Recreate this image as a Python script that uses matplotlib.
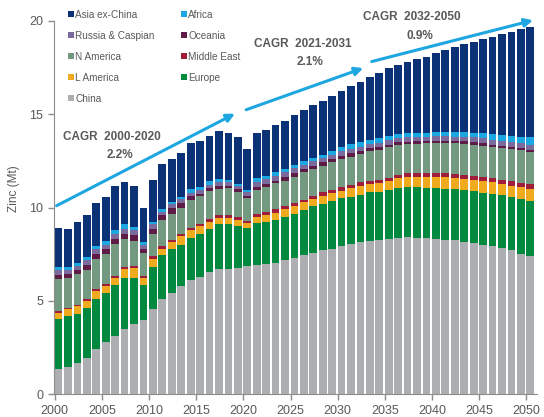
"""
Zinc demand by region, 2000-2050, stacked bars with CAGR arrows
"""

import numpy as np
import matplotlib
matplotlib.use('Agg')
from matplotlib import pyplot as plt
from matplotlib.patches import Patch

plt.rcParams['font.family'] = ['Liberation Sans', 'DejaVu Sans']

years = np.arange(2000, 2051)

# Regional zinc demand (Mt)
china = [1.33, 1.48, 1.69, 1.92, 2.40, 2.78, 3.11, 3.48, 3.75, 4.00,
         4.59, 5.09, 5.45, 5.79, 6.10, 6.28, 6.55, 6.69, 6.69, 6.78,
         6.85, 6.91, 6.96, 7.05, 7.17, 7.30, 7.44, 7.58, 7.71, 7.80,
         7.94, 8.03, 8.15, 8.21, 8.24, 8.33, 8.38, 8.42, 8.38, 8.36,
         8.33, 8.27, 8.24, 8.15, 8.10, 8.01, 7.92, 7.83, 7.71, 7.53, 7.41]
europe = [2.73, 2.72, 2.60, 2.72, 2.69, 2.65, 2.74, 2.73, 2.50, 1.87,
          2.23, 2.35, 2.35, 2.22, 2.27, 2.32, 2.32, 2.44, 2.44, 2.26,
          2.06, 2.26, 2.26, 2.26, 2.32, 2.37, 2.44, 2.48, 2.49, 2.54,
          2.56, 2.56, 2.53, 2.61, 2.58, 2.62, 2.68, 2.67, 2.71, 2.70,
          2.71, 2.73, 2.73, 2.80, 2.78, 2.78, 2.82, 2.82, 2.85, 2.94, 2.93]
l_america = [0.32, 0.38, 0.42, 0.36, 0.43, 0.38, 0.39, 0.48, 0.49, 0.36,
             0.41, 0.36, 0.35, 0.45, 0.41, 0.39, 0.35, 0.32, 0.32, 0.32,
             0.26, 0.35, 0.39, 0.41, 0.41, 0.44, 0.41, 0.41, 0.44, 0.44,
             0.41, 0.46, 0.46, 0.45, 0.48, 0.50, 0.53, 0.54, 0.57, 0.60,
             0.59, 0.63, 0.62, 0.59, 0.60, 0.62, 0.62, 0.62, 0.62, 0.62, 0.66]
middle_east = [0.07, 0.06, 0.09, 0.11, 0.10, 0.12, 0.12, 0.13, 0.11, 0.09,
               0.16, 0.16, 0.09, 0.14, 0.14, 0.14, 0.16, 0.15, 0.16, 0.13,
               0.10, 0.15, 0.15, 0.22, 0.18, 0.15, 0.14, 0.14, 0.18, 0.18,
               0.18, 0.18, 0.22, 0.18, 0.18, 0.14, 0.18, 0.21, 0.20, 0.20,
               0.23, 0.21, 0.21, 0.23, 0.23, 0.21, 0.21, 0.21, 0.23, 0.23, 0.27]
n_america = [1.71, 1.59, 1.63, 1.56, 1.61, 1.57, 1.71, 1.49, 1.36, 1.25,
             1.21, 1.35, 1.43, 1.39, 1.49, 1.47, 1.50, 1.42, 1.44, 1.34,
             1.25, 1.28, 1.36, 1.36, 1.37, 1.40, 1.46, 1.46, 1.43, 1.47,
             1.52, 1.50, 1.51, 1.57, 1.62, 1.64, 1.60, 1.57, 1.55, 1.58,
             1.58, 1.60, 1.64, 1.64, 1.66, 1.69, 1.69, 1.71, 1.73, 1.76, 1.72]
oceania = [0.21, 0.23, 0.24, 0.27, 0.30, 0.28, 0.26, 0.29, 0.30, 0.23,
           0.27, 0.27, 0.32, 0.25, 0.21, 0.15, 0.15, 0.16, 0.13, 0.17,
           0.12, 0.17, 0.15, 0.15, 0.21, 0.18, 0.18, 0.16, 0.18, 0.18,
           0.17, 0.20, 0.18, 0.16, 0.13, 0.14, 0.12, 0.12, 0.14, 0.12,
           0.14, 0.14, 0.14, 0.14, 0.12, 0.13, 0.11, 0.12, 0.12, 0.11, 0.11]
russia = [0.27, 0.22, 0.20, 0.23, 0.23, 0.23, 0.23, 0.26, 0.27, 0.21,
          0.23, 0.21, 0.18, 0.23, 0.18, 0.18, 0.17, 0.21, 0.21, 0.15,
          0.18, 0.27, 0.27, 0.26, 0.23, 0.27, 0.23, 0.25, 0.23, 0.23,
          0.23, 0.21, 0.22, 0.23, 0.23, 0.25, 0.23, 0.23, 0.21, 0.23,
          0.23, 0.23, 0.21, 0.24, 0.27, 0.27, 0.25, 0.24, 0.23, 0.25, 0.27]
africa = [0.16, 0.16, 0.18, 0.18, 0.20, 0.20, 0.22, 0.24, 0.18, 0.13,
          0.14, 0.16, 0.12, 0.12, 0.17, 0.16, 0.20, 0.13, 0.11, 0.12,
          0.13, 0.20, 0.17, 0.18, 0.18, 0.18, 0.18, 0.18, 0.18, 0.21,
          0.22, 0.27, 0.23, 0.21, 0.26, 0.23, 0.22, 0.21, 0.23, 0.23,
          0.26, 0.26, 0.28, 0.28, 0.26, 0.26, 0.32, 0.33, 0.36, 0.35, 0.39]
asia_ex_china = [2.12, 2.03, 2.17, 2.25, 2.28, 2.35, 2.36, 2.26, 2.17, 1.85,
                 2.24, 2.38, 2.31, 2.35, 2.47, 2.46, 2.45, 2.58, 2.51, 2.49,
                 2.19, 2.42, 2.44, 2.51, 2.58, 2.67, 2.72, 2.81, 2.88, 2.94,
                 3.02, 3.08, 3.24, 3.38, 3.48, 3.60, 3.70, 3.83, 3.96, 4.07,
                 4.23, 4.37, 4.53, 4.68, 4.85, 5.04, 5.21, 5.40, 5.57, 5.76, 5.91]

# stacking order, bottom to top
seriesNames = ['China', 'Europe', 'L America', 'Middle East', 'N America',
               'Oceania', 'Russia & Caspian', 'Africa', 'Asia ex-China']
seriesValues = [china, europe, l_america, middle_east, n_america,
                oceania, russia, africa, asia_ex_china]
seriesColors = ['#adaeb2', '#00893f', '#f0aa1e', '#a11d3c', '#739a80',
                '#5e1b45', '#7b6a9c', '#1ba8e2', '#0b3276']

# CAGR annotations
cagrLabels = ['CAGR  2000-2020', 'CAGR  2021-2031', 'CAGR  2032-2050']
cagrRates = ['2.2%', '2.1%', '0.9%']

textColor = '#595959'
axisColor = '#8c8c8c'
arrowColor = '#1ea6e0'

fig = plt.figure(figsize=(5.44, 4.17), dpi=100)
ax = fig.add_axes([0.0987, 0.0544, 0.888, 0.8956])

bottom = np.zeros(len(years))
handles = {}
for name, vals, color in zip(seriesNames, seriesValues, seriesColors):
    vals = np.array(vals)
    ax.bar(years, vals, width=0.82, bottom=bottom, align='edge',
           color=color, lw=0)
    bottom += vals
    handles[name] = Patch(fc=color, ec='none')

legendOrder = ['Asia ex-China', 'Russia & Caspian', 'N America', 'L America', 'China',
               'Africa', 'Oceania', 'Middle East', 'Europe']
leg = ax.legend([handles[n] for n in legendOrder], legendOrder, ncol=2,
                loc='upper left', bbox_to_anchor=(68/544, 1 - 10/417),
                bbox_transform=fig.transFigure, frameon=False,
                fontsize=7.2, handlelength=0.55, handleheight=0.55,
                handletextpad=0.15, labelspacing=1.1, columnspacing=2.7,
                borderpad=0, borderaxespad=0)
for txt in leg.get_texts():
    txt.set_color(textColor)

# arrows and CAGR text
textPos = [(2006.1, 13.8), (2026.3, 18.77), (2037.9, 20.2)]
arrowStart = [(2000.2, 10.1), (2020.3, 15.24), (2033.6, 17.82)]
arrowEnd = [(2019.1, 15.03), (2032.7, 17.47), (2050.7, 20.03)]
for label, rate, (tx, ty), start, end in zip(cagrLabels, cagrRates, textPos,
                                            arrowStart, arrowEnd):
    ax.annotate('', xy=end, xytext=start, annotation_clip=False,
                arrowprops=dict(arrowstyle='-|>', color=arrowColor, lw=2.2,
                                mutation_scale=12, shrinkA=0, shrinkB=0))
    ax.text(tx, ty, label, ha='center', va='center', fontsize=8.5,
            fontweight='bold', color=textColor, clip_on=False)
    ax.text(tx + 0.8, ty - 1.0, rate, ha='center', va='center', fontsize=8.5,
            fontweight='bold', color=textColor, clip_on=False)

ax.set_xlim(1999.89, 2051.1)
ax.set_ylim(0, 20)
ax.set_xticks(np.arange(2000, 2051, 5))
ax.set_yticks([0, 5, 10, 15, 20])
ax.tick_params(colors=axisColor, labelcolor=textColor, labelsize=9,
               length=4, width=1, direction='out')
for side in ['top', 'right']:
    ax.spines[side].set_visible(False)
for side in ['left', 'bottom']:
    ax.spines[side].set_color(axisColor)
ax.set_ylabel('Zinc (Mt)', fontsize=8.5, color=textColor)
ax.yaxis.set_label_coords(-0.07, 0.55)

fig.savefig('out.png', dpi=100, facecolor='w')
